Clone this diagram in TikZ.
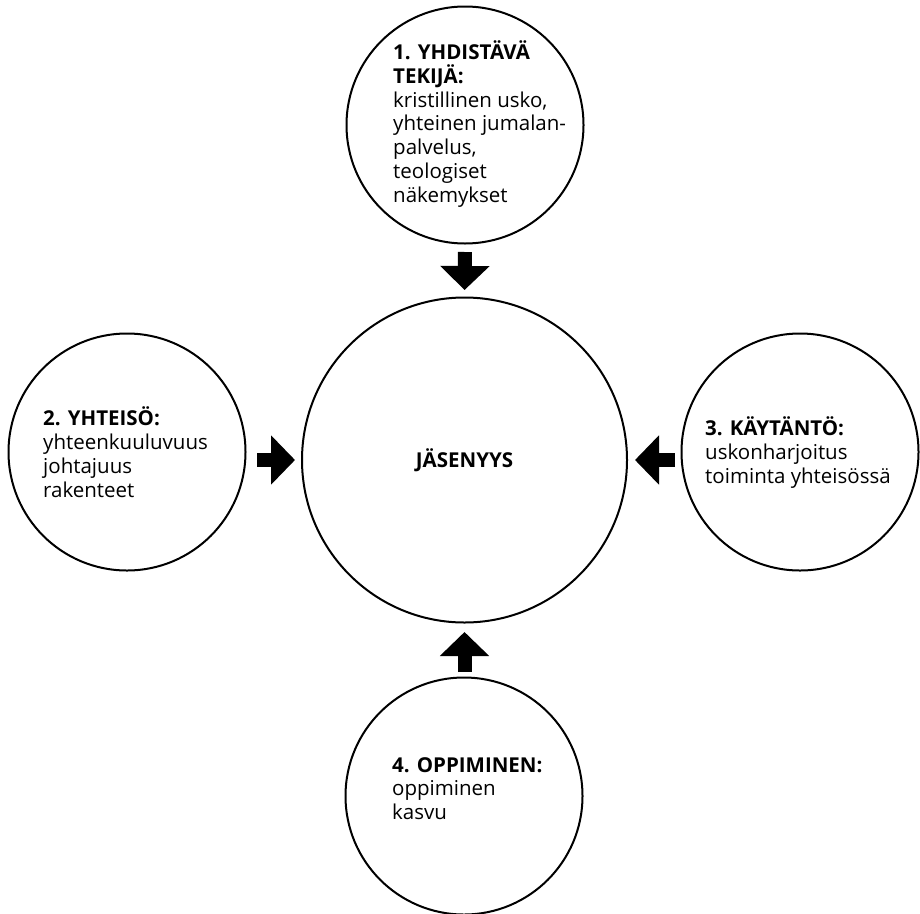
\documentclass[tikz,border=0pt]{standalone}
\usepackage{fontspec}
\setmainfont{Open Sans}
\usetikzlibrary{arrows.meta}

\begin{document}
\begin{tikzpicture}[x=1pt,y=-1pt,
    factor/.style={circle,draw,line width=2pt,inner sep=0pt,minimum size=237pt},
    factortext/.style={anchor=west,align=left,inner sep=0pt,font=\fontsize{20.5}{23.8}\selectfont},
    blockarrow/.style={line width=14pt,-{Triangle[width=48pt,length=24pt]}}]

    \useasboundingbox (0,0) rectangle (920,913);

    % membership
    \node[factor,minimum size=325pt,font=\fontsize{20.5}{23.8}\selectfont\bfseries] (jasenyys) at (464.5,460) {JÄSENYYS};

    % 1. unifying factor
    \node[factor] (yhdistava) at (465,125) {};
    \node[factortext] (yhdistavatxt) at (393,124) {\textbf{1. YHDISTÄVÄ}\\\textbf{TEKIJÄ:}\\kristillinen usko,\\yhteinen jumalan-\\palvelus,\\teologiset\\näkemykset};
    \draw[blockarrow,shorten <=7.5pt,shorten >=6.5pt](yhdistava.south) to (jasenyys.north);

    % 2. community
    \node[factor] (yhteiso) at (127,452) {};
    \node[factortext] (yhteisotxt) at (43,452) {\textbf{2. YHTEISÖ:}\\yhteenkuuluvuus\\johtajuus\\rakenteet};
    \draw[blockarrow,shorten <=10.5pt,shorten >=6pt](yhteiso.east |- jasenyys.west) to (jasenyys.west);

    % 3. practice
    \node[factortext] (kaytantotxt) at (705,452.5) {\textbf{3. KÄYTÄNTÖ:}\\uskonharjoitus\\toiminta yhteisössä};
    \node[factor] (kaytanto) at (800,452) {};
    \draw[blockarrow,shorten <=5.5pt,shorten >=7pt](kaytanto.west |- jasenyys.east) to (jasenyys.east);

    % 4. learning
    \node[factor] (oppiminen) at (464,796) {};
    \node[factortext] (oppiminentxt) at (392,788.5) {\textbf{4. OPPIMINEN:}\\oppiminen\\kasvu};
    \draw[blockarrow,shorten <=4.5pt,shorten >=8.5pt](oppiminen.north -| jasenyys.south) to (jasenyys.south);

\end{tikzpicture}
\end{document}
